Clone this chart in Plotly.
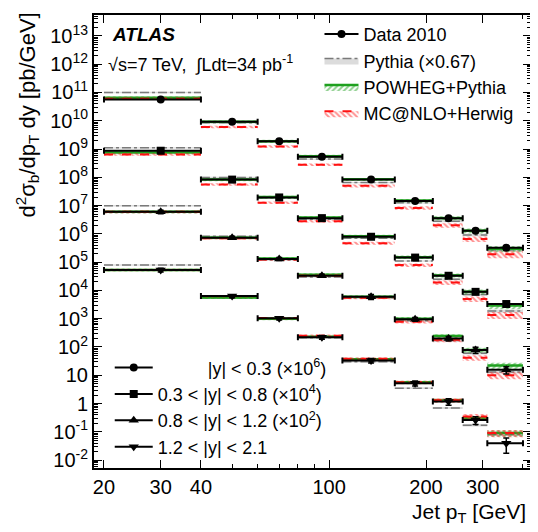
import plotly.graph_objects as go

# ---------------- data ----------------
bin_edges = [20, 40, 60, 80, 110, 160, 210, 260, 310, 400]
bin_centers = [30, 50, 70, 95, 135, 185, 235, 285, 355]

series_labels = [
    "\u00a0" * 10 + "|y| < 0.3 (×10<sup>6</sup>)",
    "0.3 < |y| < 0.8 (×10<sup>4</sup>)",
    "0.8 < |y| < 1.2 (×10<sup>2</sup>)",
    "1.2 < |y| < 2.1",
]
series_symbols = ["circle", "square", "triangle-up", "triangle-down"]

data_y0 = [5.6e10, 9.2e9, 1.9e9, 5.3e8, 8.3e7, 1.44e7, 3.6e6, 1.3e6, 3.2e5]
data_y1 = [8.7e8, 8.3e7, 1.94e7, 3.6e6, 7.9e5, 1.45e5, 3.3e4, 8.9e3, 3.3e3]
data_y2 = [6.0e6, 7.3e5, 1.29e5, 3.3e4, 6.0e3, 950, 200, 78, 15.5]
data_y3 = [5.3e4, 6.3e3, 1.03e3, 220, 33, 5.2, 1.17, 0.26, 0.039]
data_series = [data_y0, data_y1, data_y2, data_y3]

data_relerr0 = [0.12, 0.10, 0.10, 0.10, 0.10, 0.10, 0.12, 0.14, 0.18]
data_relerr1 = [0.12, 0.10, 0.10, 0.10, 0.10, 0.12, 0.14, 0.16, 0.20]
data_relerr2 = [0.15, 0.12, 0.12, 0.12, 0.20, 0.15, 0.18, 0.25, 0.28]
data_relerr3 = [0.15, 0.12, 0.12, 0.15, 0.18, 0.20, 0.25, 0.30, 0.55]
data_relerrs = [data_relerr0, data_relerr1, data_relerr2, data_relerr3]

pythia_y0 = [1.0e11, 8.5e9, 1.8e9, 4.4e8, 6.5e7, 1.26e7, 2.8e6, 9.1e5, 2.7e5]
pythia_y1 = [1.1e9, 9.8e7, 1.9e7, 3.3e6, 7.0e5, 1.1e5, 2.5e4, 7.2e3, 1.86e3]
pythia_y2 = [9.8e6, 8.3e5, 1.2e5, 3.0e4, 5.5e3, 850, 170, 60, 13]
pythia_y3 = [8.0e4, 5.5e3, 1.0e3, 210, 30, 3.5, 0.7, 0.17, 0.08]
pythia_series = [pythia_y0, pythia_y1, pythia_y2, pythia_y3]

powheg_y0 = [6.5e10, 9.2e9, 1.9e9, 5.6e8, 8.5e7, 1.5e7, 3.6e6, 1.3e6, 3.0e5]
powheg_y1 = [7.5e8, 8.3e7, 2.0e7, 3.8e6, 8.3e5, 1.5e5, 3.4e4, 9.0e3, 2.9e3]
powheg_y2 = [6.0e6, 7.3e5, 1.35e5, 3.6e4, 6.0e3, 1.0e3, 245, 78, 22]
powheg_y3 = [5.3e4, 5.6e3, 1.0e3, 230, 37, 5.6, 1.3, 0.30, 0.09]
powheg_series = [powheg_y0, powheg_y1, powheg_y2, powheg_y3]

mcnlo_y0 = [6.0e10, 6.0e9, 1.23e9, 2.8e8, 5.0e7, 8.3e6, 2.0e6, 6.6e5, 1.9e5]
mcnlo_y1 = [6.4e8, 5.6e7, 1.26e7, 2.8e6, 4.7e5, 7.9e4, 1.9e4, 5.0e3, 1.35e3]
mcnlo_y2 = [6.0e6, 7.0e5, 1.25e5, 3.3e4, 5.5e3, 780, 180, 42, 10]
mcnlo_y3 = [5.3e4, 6.3e3, 1.05e3, 250, 38, 5.6, 1.3, 0.35, 0.09]
mcnlo_series = [mcnlo_y0, mcnlo_y1, mcnlo_y2, mcnlo_y3]

pythia_unc = [0.06, 0.06, 0.06, 0.06, 0.06, 0.07, 0.08, 0.10, 0.12]
powheg_unc = [0.12, 0.12, 0.12, 0.12, 0.12, 0.14, 0.16, 0.20, 0.25]
mcnlo_unc = [0.10, 0.10, 0.10, 0.10, 0.12, 0.14, 0.18, 0.22, 0.28]

x_tick_vals = [20, 30, 40, 100, 200, 300]
x_tick_text = ["20", "30", "40", "100", "200", "300"]
x_minor_vals = [50, 60, 70, 80, 90, 400]
y_exponents = list(range(-2, 14))

FONT = "Liberation Sans, Arial, Helvetica, sans-serif"

fig = go.Figure()


def band_xy(series_list, unc):
    xs, ys = [], []
    for vals in series_list:
        for i, v in enumerate(vals):
            lo, hi = bin_edges[i], bin_edges[i + 1]
            a, b = v * (1 - unc[i]), v * (1 + unc[i])
            xs += [lo, hi, hi, lo, lo, None]
            ys += [a, a, b, b, a, None]
    return xs, ys


def line_xy(series_list):
    xs, ys = [], []
    for vals in series_list:
        for i, v in enumerate(vals):
            xs += [bin_edges[i], bin_edges[i + 1], None]
            ys += [v, v, None]
    return xs, ys


models = [
    ("Pythia (×0.67)", pythia_series, pythia_unc,
     "rgba(205,205,205,0.7)", None,
     dict(color="#7a7a7a", width=1.5, dash="dashdot")),
    ("POWHEG+Pythia", powheg_series, powheg_unc,
     "rgba(0,0,0,0)",
     dict(shape="/", fgcolor="#1fa01f", bgcolor="rgba(0,0,0,0)", size=4, solidity=0.5),
     dict(color="#1fa01f", width=2.5)),
    ("MC@NLO+Herwig", mcnlo_series, mcnlo_unc,
     "rgba(0,0,0,0)",
     dict(shape="\\", fgcolor="#ff2020", bgcolor="rgba(0,0,0,0)", size=4, solidity=0.5),
     dict(color="#ff1010", width=2, dash="dash")),
]

for name, ser, unc, fillc, patt, line in models:
    bx, by = band_xy(ser, unc)
    kw = dict(fillpattern=patt) if patt else {}
    fig.add_trace(go.Scatter(x=bx, y=by, mode="lines", fill="toself",
                             fillcolor=fillc, line=dict(width=0),
                             showlegend=False, hoverinfo="skip", **kw))
    lx, ly = line_xy(ser)
    fig.add_trace(go.Scatter(x=lx, y=ly, mode="lines", line=line,
                             showlegend=False, hoverinfo="skip"))

# data
for s, vals in enumerate(data_series):
    err = [v * e for v, e in zip(vals, data_relerrs[s])]
    xplus = [bin_edges[i + 1] - c for i, c in enumerate(bin_centers)]
    xminus = [c - bin_edges[i] for i, c in enumerate(bin_centers)]
    msize = 8 if s < 2 else 9
    fig.add_trace(go.Scatter(
        x=bin_centers, y=vals, mode="markers",
        marker=dict(symbol=series_symbols[s], size=msize, color="black"),
        error_x=dict(type="data", symmetric=False, array=xplus, arrayminus=xminus,
                     color="black", thickness=2, width=3),
        error_y=dict(type="data", array=err, color="black", thickness=1.5, width=3),
        showlegend=False))

# legend proxies (no plotted coordinates)
fig.add_trace(go.Scatter(x=[None], y=[None], mode="lines+markers", name="Data 2010",
                         marker=dict(symbol="circle", size=8, color="black"),
                         line=dict(color="black", width=2), legend="legend"))
for name, ser, unc, fillc, patt, line in models:
    kw = dict(fillpattern=patt) if patt else {}
    fig.add_trace(go.Scatter(x=[None, None], y=[None, None], mode="lines", fill="toself",
                             fillcolor=fillc,
                             line=line, name=name, legend="legend", **kw))

for s in range(4):
    fig.add_trace(go.Scatter(x=[None], y=[None], mode="lines+markers", name=series_labels[s],
                             marker=dict(symbol=series_symbols[s], size=8 if s < 2 else 9, color="black"),
                             line=dict(color="black", width=2),
                             legend="legend2"))

ytv = [10.0 ** e for e in y_exponents]
ytt = []
for e in y_exponents:
    if e == 0:
        ytt.append("1")
    elif e == 1:
        ytt.append("10")
    else:
        ytt.append("10<sup>%d</sup>" % e)
yminor = [k * 10.0 ** e for e in range(-3, 14) for k in range(2, 10)]

axis_common = dict(showline=True, linecolor="black", linewidth=2, mirror="ticks",
                   ticks="inside", tickcolor="black", tickwidth=1, ticklen=8,
                   showgrid=False, zeroline=False,
                   tickfont=dict(family=FONT, size=20, color="black"))

fig.update_xaxes(type="log", range=[1.27, 2.627], tickmode="array",
                 tickvals=x_tick_vals, ticktext=x_tick_text,
                 minor=dict(tickmode="array", tickvals=x_minor_vals, ticks="inside",
                            ticklen=4, tickcolor="black"),
                 **axis_common)
fig.update_yaxes(type="log", range=[-2.28, 13.74], tickmode="array",
                 tickvals=ytv, ticktext=ytt,
                 minor=dict(tickmode="array", tickvals=yminor, ticks="inside",
                            ticklen=4, tickcolor="black"),
                 **axis_common)

# page body adds an 8px offset; figure is sized so the plot area lands where the reference has it
fig.update_layout(
    width=530, height=524,
    margin=dict(l=86, r=7, t=5, b=64),
    paper_bgcolor="white", plot_bgcolor="white",
    font=dict(family=FONT, size=18, color="black"),
    legend=dict(x=0.516, y=0.998, xanchor="left", yanchor="top",
                bgcolor="rgba(0,0,0,0)", traceorder="normal", itemwidth=34,
                font=dict(family=FONT, size=18)),
    legend2=dict(x=0.036, y=0.262, xanchor="left", yanchor="top",
                 bgcolor="rgba(0,0,0,0)", traceorder="normal", itemwidth=38,
                 font=dict(family=FONT, size=18)),
    annotations=[
        dict(text="<b><i>ATLAS</i></b>", x=0.036, y=0.956, xref="paper", yref="paper",
             xanchor="left", yanchor="middle", showarrow=False,
             font=dict(family=FONT, size=19)),
        dict(text="√s=7 TeV,  ∫Ldt=34 pb<sup>-1</sup>", x=0.028, y=0.892,
             xref="paper", yref="paper", xanchor="left", yanchor="middle",
             showarrow=False, font=dict(family=FONT, size=18)),
        dict(text="d<sup>2</sup>σ<sub>b</sub>/dp<sub>T</sub> dy [pb/GeV]", textangle=-90,
             x=-0.152, y=1.01, xref="paper", yref="paper", xanchor="center",
             yanchor="top", showarrow=False, font=dict(family=FONT, size=22)),
        dict(text="Jet p<sub>T</sub> [GeV]", x=0.992, y=-0.1, xref="paper", yref="paper",
             xanchor="right", yanchor="middle", showarrow=False,
             font=dict(family=FONT, size=21)),
    ],
)

fig.write_html("out.html")
